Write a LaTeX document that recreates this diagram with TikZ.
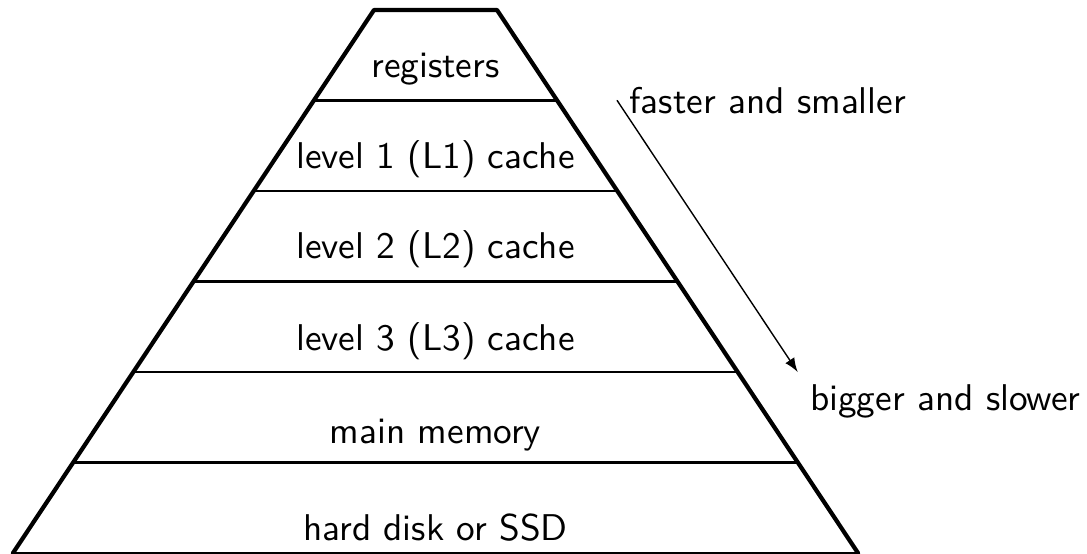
\documentclass[tikz,border=0pt]{standalone}
\usetikzlibrary{calc}
\begin{document}
\begin{tikzpicture}[line join=round, line cap=round,>=latex,font=\sffamily\fontsize{10.6}{12.7}\selectfont]
	\useasboundingbox (0,0) rectangle (10.87,5.53);
	\path 
	(0.13,0) coordinate (A)	
	(8.58,0) coordinate (B)
	(4.97,5.43) coordinate (C)
	(3.74,5.43) coordinate (D)
	;
	\path
	($(A)!1/6!(D)$) coordinate (L1) ($(B)!1/6!(C)$) coordinate (R1)
	($(A)!2/6!(D)$) coordinate (L2) ($(B)!2/6!(C)$) coordinate (R2)
	($(A)!3/6!(D)$) coordinate (L3) ($(B)!3/6!(C)$) coordinate (R3)
	($(A)!4/6!(D)$) coordinate (L4) ($(B)!4/6!(C)$) coordinate (R4)
	($(A)!5/6!(D)$) coordinate (L5) ($(B)!5/6!(C)$) coordinate (R5)
	;
	\draw[semithick] (L1)--(R1);
	\draw[semithick] (L2)--(R2);
	\draw[semithick] (L3)--(R3);
	\draw[semithick] (L4)--(R4);
	\draw[semithick] (L5)--(R5);
	\draw[semithick] (A)--(B);
	\draw[very thick] (A)--(D)--(C)--(B);
	
	\node[anchor=base] (reg) at (4.355,4.76) {registers};
	\node[anchor=base] (lone) at (4.355,3.85) {level 1 (L1) cache};
	\node[anchor=base] (ltwo) at (4.355,2.95) {level 2 (L2) cache};
	\node[anchor=base] (lthree) at (4.355,2.03) {level 3 (L3) cache};
	\node[anchor=base] (mem) at (4.355,1.10) {main memory};
	\node[anchor=base] (disk) at (4.355,0.13) {hard disk or SSD};
	
	\path ($(R5)+(0.6,0)$) coordinate (fast)
	($(R2)+(0.6,0)$) coordinate (slow);
	\draw[->] (fast)--(slow);
	\node[anchor=west] (fs) at (fast) {faster and smaller};
	\node[anchor=north west] (bs) at (slow) {bigger and slower};
\end{tikzpicture}
\end{document}
